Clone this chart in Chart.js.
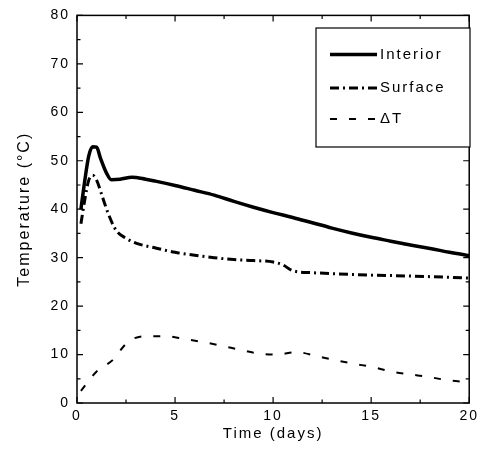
<!DOCTYPE html>
<html>
<head>
<meta charset="utf-8">
<script src="https://cdn.jsdelivr.net/npm/chart.js@4/dist/chart.umd.min.js"></script>
<style>
html,body{margin:0;padding:0;background:#fff;}
#wrap{width:484px;height:467px;}
</style>
</head>
<body>
<div id="wrap"><canvas id="c" width="484" height="467"></canvas></div>
<script>
// ---- data ----
const interiorT = [0.2, 0.4, 0.6, 0.8, 1.0, 1.2, 1.5, 1.75, 2.2, 2.8, 3.5, 4, 5, 6, 7, 8, 9, 10, 11, 12, 13, 14, 15, 16, 17, 18, 19, 20];
const interiorV = [40, 46, 51, 52.9, 52.8, 50.5, 47.5, 46.1, 46.2, 46.6, 46.2, 45.8, 44.9, 43.9, 42.9, 41.6, 40.4, 39.3, 38.3, 37.2, 36.1, 35.1, 34.2, 33.4, 32.6, 31.9, 31.1, 30.4];

const surfaceT = [0.2, 0.4, 0.6, 0.8, 1.0, 1.3, 1.6, 2.0, 2.5, 3, 4, 5, 6, 7, 8, 9, 10, 10.5, 11, 12, 13, 15, 17, 20];
const surfaceV = [37, 42, 46, 47, 46, 42.5, 39, 35.6, 34, 33, 32, 31.1, 30.5, 30, 29.6, 29.4, 29.1, 28.5, 27.3, 26.9, 26.7, 26.4, 26.2, 25.8];

const deltaT = [0.2, 1.0, 1.8, 2.6, 3.5, 4.5, 5.5, 6.4, 7.4, 8.3, 9.3, 10.2, 11.2, 12.2, 13.1, 14.1, 15.1, 16.0, 17.0, 17.9, 18.9, 19.9];
const deltaV = [2.5, 6.5, 8.8, 12.6, 13.8, 13.8, 13.2, 12.6, 11.8, 11.0, 10.2, 10.0, 10.5, 9.7, 8.9, 8.1, 7.4, 6.5, 5.9, 5.4, 4.7, 4.3];

const seriesNames = ['Interior', 'Surface', '\u0394T'];
const xTicks = [0, 5, 10, 15, 20];
const yTicks = [0, 10, 20, 30, 40, 50, 60, 70, 80];
const xTitle = 'Time (days)';
const yTitle = 'Temperature (\u00B0C)';

const FONT = "'Liberation Sans', Arial, sans-serif";
const pts = (xs, ys) => xs.map((x, i) => ({x: x, y: ys[i]}));

const spacing = {
  id: 'spacing',
  beforeUpdate(chart) { chart.ctx.letterSpacing = '2px'; },
  beforeDraw(chart) { chart.ctx.letterSpacing = '2px'; }
};

const frame = {
  id: 'frame',
  afterDatasetsDraw(chart) {
    const ctx = chart.ctx, a = chart.chartArea;
    const xs = chart.scales.x, ys = chart.scales.y;
    ctx.save();
    ctx.strokeStyle = '#000';
    ctx.lineWidth = 1.5;
    ctx.strokeRect(a.left, a.top, a.right - a.left, a.bottom - a.top);
    ctx.lineWidth = 1.2;
    ctx.beginPath();
    for (let v = 0; v <= 20; v += 2.5) {
      const p = xs.getPixelForValue(v);
      const len = (v % 5 === 0) ? 6 : 3.5;
      ctx.moveTo(p, a.bottom); ctx.lineTo(p, a.bottom - len);
      ctx.moveTo(p, a.top); ctx.lineTo(p, a.top + len);
    }
    for (let v = 0; v <= 80; v += 5) {
      const p = ys.getPixelForValue(v);
      const len = (v % 10 === 0) ? 6 : 3.5;
      ctx.moveTo(a.left, p); ctx.lineTo(a.left + len, p);
      ctx.moveTo(a.right, p); ctx.lineTo(a.right - len, p);
    }
    ctx.stroke();

    // legend box
    const bx = 316, by = 28, bw = 154, bh = 119;
    ctx.fillStyle = '#fff';
    ctx.fillRect(bx, by, bw, bh);
    ctx.lineWidth = 1.2;
    ctx.strokeRect(bx, by, bw, bh);
    const rows = [54.5, 88, 119];
    chart.data.datasets.forEach((ds, i) => {
      const y = rows[i];
      ctx.save();
      ctx.strokeStyle = ds.borderColor;
      ctx.lineWidth = ds.borderWidth;
      ctx.setLineDash(ds.borderDash || []);
      ctx.beginPath();
      ctx.moveTo(330, y); ctx.lineTo(377, y);
      ctx.stroke();
      ctx.restore();
      ctx.fillStyle = '#000';
      ctx.font = '15px ' + FONT;
      ctx.letterSpacing = '2px';
      ctx.textAlign = 'left';
      ctx.textBaseline = 'middle';
      ctx.fillText(ds.label, 380, y);
    });
    ctx.restore();
  }
};

new Chart(document.getElementById('c'), {
  type: 'line',
  data: {
    datasets: [
      {label: seriesNames[0], data: pts(interiorT, interiorV), borderColor: '#000', borderWidth: 3.5, pointRadius: 0, cubicInterpolationMode: 'monotone', fill: false},
      {label: seriesNames[1], data: pts(surfaceT, surfaceV), borderColor: '#000', borderWidth: 3, borderDash: [9, 4, 2, 4], pointRadius: 0, cubicInterpolationMode: 'monotone', fill: false},
      {label: seriesNames[2], data: pts(deltaT, deltaV), borderColor: '#000', borderWidth: 2, borderDash: [7, 12], pointRadius: 0, cubicInterpolationMode: 'monotone', fill: false}
    ]
  },
  options: {
    responsive: false,
    animation: false,
    devicePixelRatio: 1,
    layout: {padding: {left: 0, top: 15, right: 11, bottom: 0}},
    plugins: {legend: {display: false}, tooltip: {enabled: false}},
    scales: {
      x: {
        type: 'linear', min: 0, max: 20,
        afterBuildTicks: s => { s.ticks = xTicks.map(v => ({value: v})); },
        afterFit: s => { s.height = 64; },
        grid: {display: false, drawTicks: false},
        border: {display: false},
        ticks: {color: '#000', font: {family: FONT, size: 14}, padding: 5, maxRotation: 0, autoSkip: false},
        title: {display: true, text: xTitle, color: '#000', font: {family: FONT, size: 15}, padding: {top: 10, bottom: 24}}
      },
      y: {
        type: 'linear', min: 0, max: 80,
        afterBuildTicks: s => { s.ticks = yTicks.map(v => ({value: v})); },
        afterFit: s => { s.width = 77; },
        grid: {display: false, drawTicks: false},
        border: {display: false},
        ticks: {color: '#000', font: {family: FONT, size: 14}, padding: 7, autoSkip: false},
        title: {display: true, text: yTitle, color: '#000', font: {family: FONT, size: 16}, padding: {top: 15, bottom: 4}}
      }
    }
  },
  plugins: [spacing, frame]
});
</script>
</body>
</html>
